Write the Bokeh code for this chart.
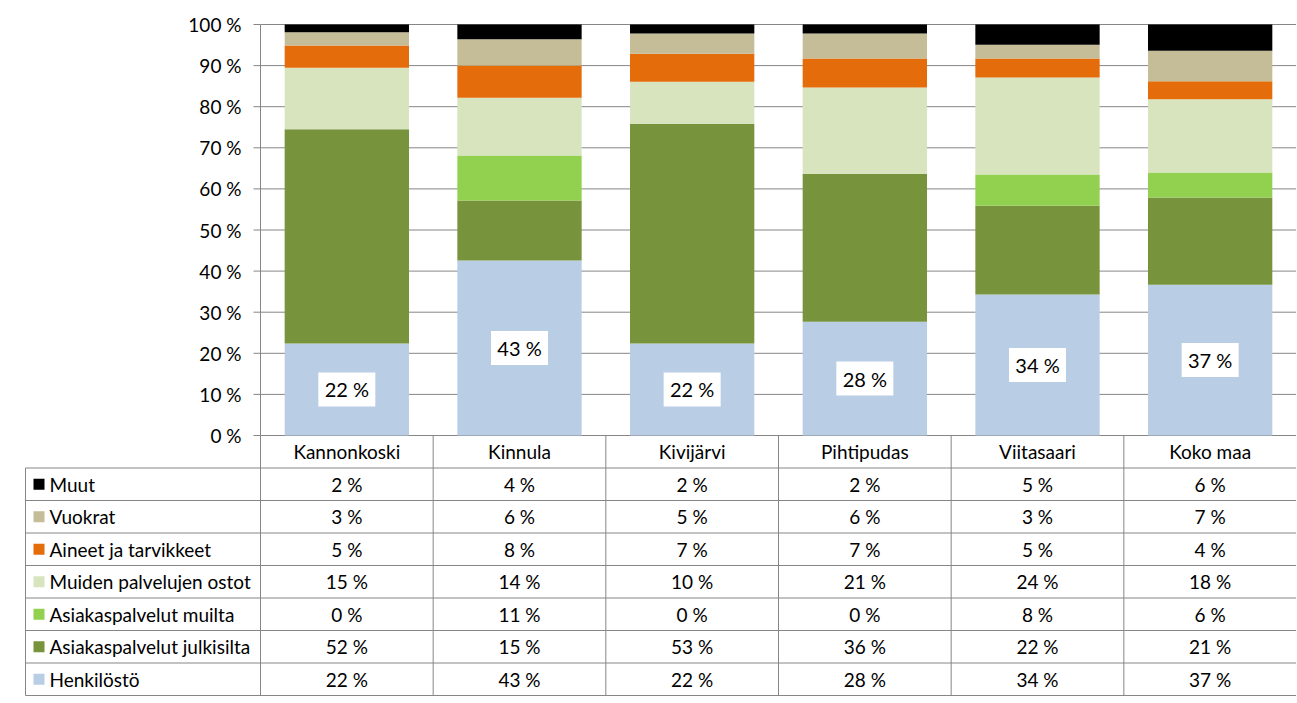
from bokeh.plotting import figure
from bokeh.models import ColumnDataSource, Range1d
from bokeh.embed import file_html
from bokeh.resources import INLINE
from bokeh.core.properties import value

categories = ["Kannonkoski", "Kinnula", "Kivijärvi", "Pihtipudas", "Viitasaari", "Koko maa"]
series_names = ["Henkilöstö", "Asiakaspalvelut julkisilta", "Asiakaspalvelut muilta",
                "Muiden palvelujen ostot", "Aineet ja tarvikkeet", "Vuokrat", "Muut"]
henkilosto = [22.4, 42.6, 22.4, 27.7, 34.3, 36.7]
julkisilta = [52.1, 14.6, 53.4, 36.0, 21.6, 21.2]
muilta = [0.0, 10.9, 0.0, 0.0, 7.6, 6.1]
muiden = [15.0, 14.1, 10.3, 21.0, 23.6, 17.8]
aineet = [5.4, 7.8, 6.8, 7.0, 4.6, 4.4]
vuokrat = [3.2, 6.4, 4.9, 6.1, 3.4, 7.4]
muut = [1.9, 3.6, 2.2, 2.2, 4.9, 6.4]
colors = ["#B9CDE5", "#77933C", "#92D050", "#D7E4BD", "#E46C0A", "#C4BD97", "#000000"]
yticks = [0, 10, 20, 30, 40, 50, 60, 70, 80, 90, 100]
ytick_labels = ["0 %", "10 %", "20 %", "30 %", "40 %", "50 %", "60 %", "70 %", "80 %", "90 %", "100 %"]

series_values = [henkilosto, julkisilta, muilta, muiden, aineet, vuokrat, muut]
keys = ["s%d" % i for i in range(len(series_names))]
FONT = "Lato"
GRID = "#868686"
FS = "19px"

n = len(categories)
nrows = len(series_names)
xs = [i + 0.5 for i in range(n)]

# pixel geometry
W, H = 1296, 702
left_px, top_px, bottom_px = 24, 4, 6
axis_x_px = 260
frame_top_to_100 = 20.0
chart_px = 411.0                # 0..100 %
table_px = 260.0                # header + rows
px_x = (W - axis_x_px) / n      # px per category
px_y = chart_px / 100.0         # px per %
left_w = (axis_x_px - left_px - 1) / px_x
row_h = (table_px / (nrows + 1)) / px_y
y_top = 100 + frame_top_to_100 / px_y
y_bot = -(table_px + 1) / px_y
x_start = -(axis_x_px - left_px) / px_x

p = figure(width=W, height=H, x_range=Range1d(x_start, n), y_range=Range1d(y_bot, y_top),
           output_backend="svg", toolbar_location=None,
           x_axis_location=None, y_axis_location=None,
           min_border_left=left_px, min_border_right=0, min_border_top=top_px,
           min_border_bottom=bottom_px)
p.outline_line_color = None
p.grid.visible = False

# gridlines
p.segment(x0=[0] * len(yticks), x1=[n] * len(yticks), y0=yticks, y1=yticks,
          line_color=GRID, line_width=1)

# stacked bars
data = {"x": xs}
for k, v in zip(keys, series_values):
    data[k] = v
src = ColumnDataSource(data)
p.vbar_stack(keys, x="x", width=0.72, source=src, fill_color=colors, line_color=None)

# y axis (drawn at x = 0)
p.segment(x0=[0], x1=[0], y0=[0], y1=[100], line_color=GRID, line_width=1)
p.segment(x0=[-7 / px_x] * len(yticks), x1=[0] * len(yticks), y0=yticks, y1=yticks,
          line_color=GRID, line_width=1)
p.text(x=[-19 / px_x] * len(yticks), y=yticks, text=ytick_labels, text_font=value(FONT),
       text_font_size=FS, text_align="right", text_baseline="middle", text_color="#000000")

# data labels (Henkilöstö)
lab_src = ColumnDataSource({"x": xs, "y": [v / 2 for v in henkilosto],
                            "t": ["%d %%" % round(v) for v in henkilosto]})
p.rect(x="x", y="y", width=57, height=34, width_units="screen", height_units="screen",
       source=lab_src, fill_color="white", line_color=None)
p.text(x="x", y="y", text="t", source=lab_src, text_font=value(FONT), text_font_size="20px",
       text_align="center", text_baseline="middle", text_color="#000000")

# ---- data table ----
hy = [-(k) * row_h for k in range(1, nrows + 2)]
p.segment(x0=[-left_w] * len(hy), x1=[n] * len(hy), y0=hy, y1=hy, line_color=GRID, line_width=1)
vx = list(range(n + 1))
p.segment(x0=vx, x1=vx, y0=[0] * len(vx), y1=[hy[-1]] * len(vx), line_color=GRID, line_width=1)
p.segment(x0=[-left_w], x1=[-left_w], y0=[hy[0]], y1=[hy[-1]], line_color=GRID, line_width=1)

# header
p.text(x=xs, y=[-0.5 * row_h] * n, text=categories, text_font=value(FONT), text_font_size=FS,
       text_align="center", text_baseline="middle", text_color="#000000")

row_order = list(range(nrows))[::-1]
row_y = [-(r + 1.5) * row_h for r in range(nrows)]
p.rect(x=[-left_w + 13.5 / px_x] * nrows, y=row_y, width=11, height=11,
       width_units="screen", height_units="screen",
       fill_color=[colors[i] for i in row_order], line_color=None)
p.text(x=[-left_w + 24 / px_x] * nrows, y=row_y, text=[series_names[i] for i in row_order],
       text_font=value(FONT), text_font_size=FS, text_align="left", text_baseline="middle",
       text_color="#000000")

cx, cy, ct = [], [], []
for r, si in enumerate(row_order):
    for j in range(n):
        cx.append(xs[j])
        cy.append(row_y[r])
        ct.append("%d %%" % round(series_values[si][j]))
p.text(x=cx, y=cy, text=ct, text_font=value(FONT), text_font_size=FS,
       text_align="center", text_baseline="middle", text_color="#000000")

open("out.html", "w").write(file_html(p, INLINE))
